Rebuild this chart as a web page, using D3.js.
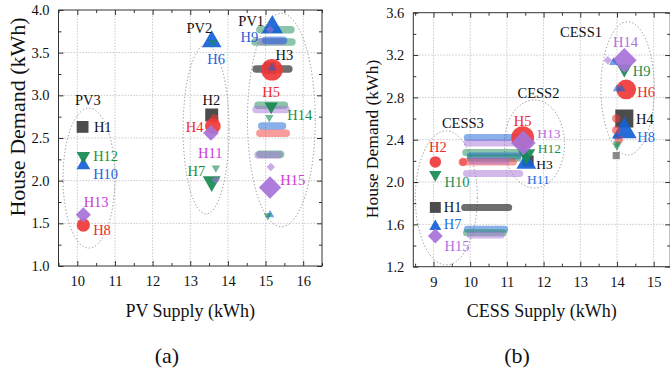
<!DOCTYPE html>
<html><head><meta charset="utf-8">
<script src="https://cdn.jsdelivr.net/npm/d3@7"></script>
<style>body{margin:0;background:#fff}svg{display:block}text{font-family:"Liberation Serif","Times New Roman",Times,serif}</style>
</head><body><svg id="c" width="670" height="371"></svg>
<script>
// ---------- DATA ----------
// series: 0 square, 1 circle, 2 triangle-up, 3 triangle-down, 4 diamond
// main points: [house, series, x, y, count]
const pvPoints = [
 ["H1",0,10.14,2.63,3.5],["H2",0,13.57,2.77,4.2],["H3",0,15.12,3.32,3.5],
 ["H4",1,13.6,2.64,4.5],["H5",1,15.17,3.30,8.5],["H8",1,10.16,1.48,3.2],
 ["H6",2,13.57,3.63,7],["H9",2,15.18,3.80,8],["H10",2,10.16,2.18,3.4],
 ["H7",3,13.57,1.99,5.8],["H12",3,10.16,2.29,3.4],["H14",3,15.15,2.87,3.2],
 ["H11",4,13.55,2.56,4.5],["H13",4,10.16,1.60,4.2],["H15",4,15.12,1.92,9]
];
// trail bands: [series, xFrom, xTo, y]
const pvTrails = [
 [3,14.85,15.7,3.77],[3,14.72,15.7,3.625],[4,14.9,15.45,3.63],[2,15.0,15.5,3.645],
 [0,14.75,15.62,3.31],[3,14.8,15.5,2.885],[4,14.75,15.55,2.835],
 [2,14.9,15.45,2.64],[1,14.85,15.55,2.555],[3,14.85,15.4,2.31],[4,14.8,15.35,2.30]
];
// small trail points: [series, x, y]
const pvSmall = [
 [4,15.12,3.77],[2,15.17,3.32],[3,15.1,2.74],[4,15.14,2.16],[2,15.12,1.6],[3,15.06,1.59],
 [3,13.6,3.62],[1,13.64,2.73],[3,13.68,2.15],[4,13.68,2.01]
];
const cessPoints = [
 ["H1",0,9.05,1.76,3],["H3",0,11.58,2.2,3],["H4",0,14.2,2.6,8.2],
 ["H2",1,9.05,2.19,2.4],["H5",1,11.43,2.42,9.4],["H6",1,14.25,2.875,7.1],
 ["H7",2,9.05,1.58,2.6],["H8",2,14.2,2.48,11],["H11",2,11.53,2.18,7],
 ["H9",3,14.2,3.07,4],["H10",3,9.05,2.07,2.8],["H12",3,11.53,2.26,5.8],
 ["H13",4,11.45,2.37,11],["H14",4,14.2,3.15,11],["H15",4,9.05,1.49,4]
];
const cessTrails = [
 [0,9.85,11.05,1.76],[2,9.92,10.95,1.555],[3,9.9,10.9,1.52],[4,10.0,10.85,1.50],
 [2,9.92,11.4,2.42],[4,9.92,11.3,2.37],[3,9.88,11.4,2.28],[2,10.0,11.3,2.245],
 [3,10.0,11.3,2.225],[1,9.8,11.2,2.19],[4,10.05,11.0,2.20],[4,9.9,11.35,2.08]
];
const cessSmall = [
 [4,13.75,3.15],[2,13.9,3.13],[2,14.0,2.88],[2,14.12,2.88],[1,13.98,2.6],[1,13.98,2.49],
 [1,14.05,2.4],[2,14.0,2.43],[3,14.0,2.36],[3,14.0,2.34],[0,13.98,2.25],[1,9.8,2.19]
];
// group ellipses: [label, cx, cy, rx, ry] in data units
const pvGroups = [["PV3",10.31,2.03,0.69,0.82],["PV2",13.42,2.6,0.61,0.99],["PV1",15.42,2.71,0.9,1.25]];
const cessGroups = [["CESS3",9.35,1.85,0.845,0.633],["CESS2",11.75,2.36,0.82,0.416],["CESS1",14.29,2.885,0.727,0.63]];
// text labels: [text, x, y, anchor]
const pvLabels = [
 ["PV3",10.28,2.95,"middle"],["PV2",13.24,3.79,"middle"],["PV1",14.62,3.875,"middle"],
 ["H1",10.44,2.63,"start"],["H12",10.42,2.29,"start"],["H10",10.42,2.08,"start"],
 ["H13",10.5,1.75,"middle"],["H8",10.42,1.42,"start"],["H2",13.56,2.95,"middle"],
 ["H4",13.35,2.63,"end"],["H11",13.53,2.32,"middle"],["H7",13.4,2.12,"end"],
 ["H6",13.45,3.43,"start"],["H9",14.57,3.69,"middle"],["H3",15.5,3.47,"middle"],
 ["H5",15.15,3.04,"middle"],["H14",15.58,2.77,"start"],["H15",15.39,2.01,"start"]
];
const cessLabels = [
 ["CESS1",13.02,3.42,"middle"],["CESS2",11.86,2.84,"middle"],["CESS3",9.8,2.555,"middle"],
 ["H2",9.12,2.33,"middle"],["H10",9.30,2.0,"start"],["H1",9.28,1.767,"start"],
 ["H7",9.28,1.6,"start"],["H15",9.30,1.40,"start"],["H5",11.43,2.58,"middle"],
 ["H13",11.83,2.465,"start"],["H12",11.84,2.315,"start"],["H3",11.8,2.17,"start"],
 ["H11",11.55,2.025,"start"],["H14",14.23,3.32,"middle"],["H9",14.43,3.05,"start"],
 ["H6",14.55,2.85,"start"],["H4",14.52,2.6,"start"],["H8",14.55,2.43,"start"]
];
const pvXTicks = [10,11,12,13,14,15,16];
const pvYTicks = [1.0,1.5,2.0,2.5,3.0,3.5,4.0];
const cessXTicks = [9,10,11,12,13,14,15];
const cessYTicks = [1.2,1.6,2.0,2.4,2.8,3.2,3.6];

// ---------- STYLE ----------
const markerColor = ["#3d3d3d","#ef3838","#1461d6","#178a52","#a772d8"];
const labelColorA = ["#111","#ee2a2a","#1e5fdc","#1d8f3a","#cc3cd4"];
const labelColorB = ["#111","#ee2a2a","#1e6fe0","#1a9055","#b070e0"];
const tightLabels = new Set(["H13","H12","H3","H11"]);
const svg = d3.select("#c");
const wScale = d3.scaleSqrt().domain([0,8]).range([0,21]);

function shapePath(s, w){
  if(s===0){const a=w*0.85/2;return `M${-a},${-a}H${a}V${a}H${-a}Z`;}
  if(s===1){const r=w/2;return `M${r},0A${r},${r} 0 1,1 ${-r},0A${r},${r} 0 1,1 ${r},0Z`;}
  const h=w*0.87;
  if(s===2) return `M0,${-h*2/3}L${w/2},${h/3}L${-w/2},${h/3}Z`;
  if(s===3) return `M0,${h*2/3}L${w/2},${-h/3}L${-w/2},${-h/3}Z`;
  const d=w/2; return `M0,${-d}L${d},0L0,${d}L${-d},0Z`;
}

function panel(cfg){
  const {x,y,xTicks,yTicks,xMinor,yMinor,points,trails,small,groups,labels,labelColor,xTitle,yTitleSize,letter,trailW,yFmt} = cfg;
  const g = svg.append("g");
  const [x0,x1]=x.range(), [y0,y1]=y.range();
  g.append("g").selectAll("line").data(xTicks).join("line")
    .attr("x1",d=>x(d)).attr("x2",d=>x(d)).attr("y1",y0).attr("y2",y1)
    .attr("stroke","#c9c9c9").attr("stroke-dasharray","1.5,1.5");
  g.append("g").selectAll("line").data(yTicks.filter(d=>y(d)>y1+1&&y(d)<y0-1)).join("line")
    .attr("y1",d=>y(d)).attr("y2",d=>y(d)).attr("x1",x0).attr("x2",x1)
    .attr("stroke","#c9c9c9").attr("stroke-dasharray","1.5,1.5");
  g.append("g").selectAll("ellipse").data(groups).join("ellipse")
    .attr("cx",d=>x(d[1])).attr("cy",d=>y(d[2]))
    .attr("rx",d=>Math.abs(x(d[1]+d[3])-x(d[1]))).attr("ry",d=>Math.abs(y(d[2]+d[4])-y(d[2])))
    .attr("fill","none").attr("stroke","#8a8a8a").attr("stroke-width",1).attr("stroke-dasharray","1.2,2.2");
  g.append("g").selectAll("line").data(trails).join("line")
    .attr("x1",d=>x(d[1])).attr("x2",d=>x(d[2])).attr("y1",d=>y(d[3])).attr("y2",d=>y(d[3]))
    .attr("stroke",d=>markerColor[d[0]]).attr("stroke-width",trailW).attr("stroke-linecap","round")
    .attr("stroke-dasharray","5,1.5")
    .attr("stroke-opacity",d=>d[0]===0?0.75:0.5);
  g.append("g").selectAll("path").data(points).join("path")
    .attr("transform",d=>`translate(${x(d[2])},${y(d[3])})`)
    .attr("d",d=>shapePath(d[1],wScale(d[4])))
    .attr("fill",d=>markerColor[d[1]]).attr("fill-opacity",0.92);
  g.append("g").selectAll("path").data(small).join("path")
    .attr("transform",d=>`translate(${x(d[1])},${y(d[2])})`)
    .attr("d",d=>shapePath(d[0],wScale(1.3)))
    .attr("fill",d=>markerColor[d[0]]).attr("fill-opacity",0.6);
  const seriesOf = {}; points.forEach(p=>seriesOf[p[0]]=p[1]);
  g.append("g").selectAll("text").data(labels).join("text")
    .attr("x",d=>x(d[1])).attr("y",d=>y(d[2])).attr("dy","0.35em")
    .attr("text-anchor",d=>d[3]).attr("font-size",d=>cfg.tight && tightLabels.has(d[0]) ? 13.5 : 14.5)
    .attr("fill",d=>d[0] in seriesOf ? labelColor[seriesOf[d[0]]] : "#111")
    .text(d=>d[0]);
  const ax = (gen,tr)=>{const a=g.append("g").attr("transform",tr).call(gen);a.select(".domain").remove();
    a.selectAll("line").attr("stroke","#333");a.selectAll("text").attr("font-size",14.5).attr("fill","#111").attr("font-family","Liberation Serif, serif");return a;};
  ax(d3.axisBottom(x).tickValues(xTicks).tickFormat(d3.format("d")).tickSizeInner(-5).tickSizeOuter(0).tickPadding(10),`translate(0,${y0})`);
  ax(d3.axisBottom(x).tickValues(xMinor).tickFormat("").tickSizeInner(-3).tickSizeOuter(0),`translate(0,${y0})`);
  ax(d3.axisTop(x).tickValues(xTicks).tickFormat("").tickSizeInner(-5).tickSizeOuter(0),`translate(0,${y1})`);
  ax(d3.axisTop(x).tickValues(xMinor).tickFormat("").tickSizeInner(-3).tickSizeOuter(0),`translate(0,${y1})`);
  ax(d3.axisLeft(y).tickValues(yTicks).tickFormat(d3.format(yFmt)).tickSizeInner(-5).tickSizeOuter(0).tickPadding(9),`translate(${x0},0)`);
  ax(d3.axisLeft(y).tickValues(yMinor).tickFormat("").tickSizeInner(-3).tickSizeOuter(0),`translate(${x0},0)`);
  ax(d3.axisRight(y).tickValues(yTicks).tickFormat("").tickSizeInner(-5).tickSizeOuter(0),`translate(${x1},0)`);
  ax(d3.axisRight(y).tickValues(yMinor).tickFormat("").tickSizeInner(-3).tickSizeOuter(0),`translate(${x1},0)`);
  g.append("rect").attr("x",x0).attr("y",y1).attr("width",x1-x0).attr("height",y0-y1)
    .attr("fill","none").attr("stroke","#333").attr("stroke-width",1);
  const cx=(x0+x1)/2;
  g.append("text").attr("x",cx).attr("y",311).attr("dy","0.35em").attr("text-anchor","middle")
    .attr("font-size",18).attr("fill","#111").text(xTitle);
  g.append("text").attr("transform",`translate(${cfg.yTitleX},${cfg.yTitleY}) rotate(-90)`).attr("dy","0.35em")
    .attr("text-anchor","middle").attr("font-size",yTitleSize).attr("fill","#111").text("House Demand (kWh)");
  g.append("text").attr("x",cfg.letterX).attr("y",355).attr("dy","0.35em").attr("text-anchor","middle")
    .attr("font-size",22).attr("fill","#111").text(letter);
}

panel({
  x:d3.scaleLinear().domain([9.5,16.5]).range([58.5,322]),
  y:d3.scaleLinear().domain([1,4]).range([266,10]),
  xTicks:pvXTicks, yTicks:pvYTicks,
  xMinor:d3.range(9.5,16.6,1), yMinor:d3.range(1.25,4,0.5),
  points:pvPoints, trails:pvTrails, small:pvSmall, groups:pvGroups, labels:pvLabels,
  labelColor:labelColorA, xTitle:"PV Supply (kWh)", yTitleSize:22, yTitleX:17, yTitleY:117,
  letter:"(a)", letterX:167, trailW:7.5, yFmt:".1f", tight:false
});
panel({
  x:d3.scaleLinear().domain([8.45,15.45]).range([413.3,670.2]),
  y:d3.scaleLinear().domain([1.2,3.6]).range([266.7,12.7]),
  xTicks:cessXTicks, yTicks:cessYTicks,
  xMinor:d3.range(8.5,15.5,1), yMinor:d3.range(1.4,3.6,0.4),
  points:cessPoints, trails:cessTrails, small:cessSmall, groups:cessGroups, labels:cessLabels,
  labelColor:labelColorB, xTitle:"CESS Supply (kWh)", yTitleSize:17.5, yTitleX:371.5, yTitleY:139,
  letter:"(b)", letterX:517, trailW:7, yFmt:".1f", tight:true
});
</script></body></html>
